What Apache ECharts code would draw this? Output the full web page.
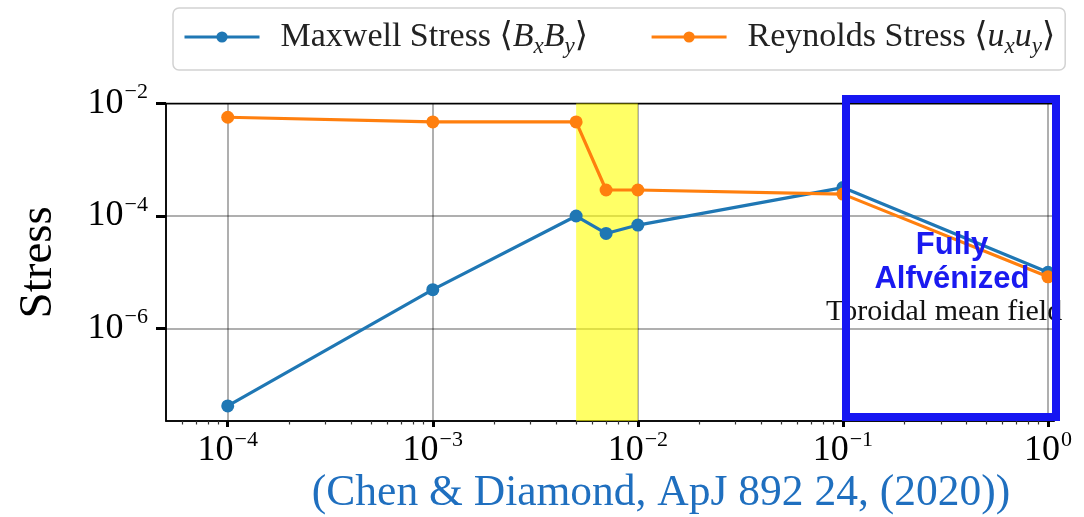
<!DOCTYPE html>
<html><head><meta charset="utf-8">
<script src="https://cdn.jsdelivr.net/npm/echarts@6/dist/echarts.min.js"></script>
<style>html,body{margin:0;padding:0;background:#fff}#c{width:1084px;height:517px}</style>
</head><body><div id="c"></div>
<script>
// ---- data ----
const xValues = [1e-4, 1e-3, 5e-3, 7e-3, 1e-2, 1e-1, 1];
const maxwellStress = [4.2e-8, 4.9e-6, 1.0e-4, 4.9e-5, 6.9e-5, 3.2e-4, 1.0e-5];
const reynoldsStress = [5.7e-3, 4.7e-3, 4.7e-3, 2.9e-4, 2.9e-4, 2.45e-4, 8.3e-6];
const seriesNames = ['Maxwell Stress', 'Reynolds Stress'];
const legendSymbols = [['B', 'x', 'B', 'y'], ['u', 'x', 'u', 'y']];
const seriesColors = ['#1f77b4', '#ff7f0e'];
const highlightSpan = [5e-3, 1e-2];
const xRange = [5e-5, 1.07];
const yRange = [2.27e-8, 1e-2];
const xTickValues = [1e-4, 1e-3, 1e-2, 1e-1, 1];
const yTickValues = [1e-6, 1e-4, 1e-2];
const xMinorTickValues = [6e-5, 7e-5, 8e-5, 9e-5,
  2e-4, 3e-4, 4e-4, 5e-4, 6e-4, 7e-4, 8e-4, 9e-4,
  2e-3, 3e-3, 4e-3, 5e-3, 6e-3, 7e-3, 8e-3, 9e-3,
  2e-2, 3e-2, 4e-2, 5e-2, 6e-2, 7e-2, 8e-2, 9e-2,
  0.2, 0.3, 0.4, 0.5, 0.6, 0.7, 0.8, 0.9];
const yAxisName = 'Stress';
const annotationTitle = 'Fully\nAlfvénized';
const annotationNote = 'Toroidal mean field';
const citation = '(Chen & Diamond, ApJ 892 24, (2020))';

const SERIF = '"Liberation Serif", "DejaVu Serif", serif';

function powLabel(v) {
  const e = Math.log10(v);
  const r = Math.round(e);
  if (Math.abs(e - r) > 1e-6) return '';
  return '{b|10}{s|' + (r < 0 ? '\u2212' + (-r) : String(r)) + '}';
}
const tickRich = {
  b: { fontSize: 36, fontFamily: SERIF, color: '#000', lineHeight: 44 },
  s: { fontSize: 22, fontFamily: SERIF, color: '#000', lineHeight: 32, verticalAlign: 'top', padding: [0, 0, 0, 1] }
};

const chart = echarts.init(document.getElementById('c'), null, { renderer: 'canvas' });
chart.setOption({
  animation: false,
  backgroundColor: '#fff',
  grid: { left: 166, right: 30, top: 103.5, bottom: 96, show: true, borderColor: '#000', borderWidth: 1.5, backgroundColor: 'transparent' },
  legend: {
    left: 173, top: 8,
    itemWidth: 75, itemHeight: 14, itemGap: 62,
    padding: [12, 10, 12, 10],
    borderColor: '#d2d2d2', borderWidth: 1.5, borderRadius: 6,
    backgroundColor: '#fff',
    lineStyle: { width: 3 },
    data: seriesNames,
    formatter: function (name) {
      const k = seriesNames.indexOf(name);
      const s = legendSymbols[k];
      return '{g| }{t|' + name + ' \u27E8}{i|' + s[0] + '}{sub|' + s[1] + '}{i|' + s[2] + '}{sub|' + s[3] + '}{t|\u27E9}';
    },
    textStyle: {
      fontFamily: SERIF, fontSize: 34, color: '#222',
      rich: {
        g: { width: 16 },
        t: { fontFamily: SERIF, fontSize: 34, color: '#222', lineHeight: 42 },
        i: { fontFamily: SERIF, fontSize: 34, fontStyle: 'italic', color: '#222', lineHeight: 42 },
        sub: { fontFamily: SERIF, fontSize: 23, fontStyle: 'italic', color: '#222', lineHeight: 23, verticalAlign: 'bottom' }
      }
    }
  },
  xAxis: [{
    type: 'log', logBase: 10, min: xRange[0], max: xRange[1],
    axisLine: { show: true, lineStyle: { color: '#000', width: 1.5 } },
    axisTick: { show: true, inside: false, length: 6, customValues: xTickValues, lineStyle: { color: '#000', width: 3 } },
    splitLine: { show: true, lineStyle: { color: 'rgba(0,0,0,0.42)', width: 1.5 } },
    axisLabel: { margin: 8, formatter: powLabel, rich: tickRich, customValues: xTickValues }
  }, {
    type: 'log', logBase: 10, min: xRange[0], max: xRange[1], position: 'bottom', gridIndex: 0,
    axisLine: { show: false },
    axisTick: { show: true, inside: false, length: 3.5, customValues: xMinorTickValues, lineStyle: { color: '#333', width: 1.2 } },
    splitLine: { show: false },
    axisLabel: { show: false }
  }],
  yAxis: {
    type: 'log', logBase: 100, min: yRange[0], max: yRange[1],
    name: yAxisName, nameLocation: 'middle', nameRotate: 90, nameGap: 104,
    nameTextStyle: { fontFamily: SERIF, fontSize: 47, color: '#000' },
    axisLine: { show: true, lineStyle: { color: '#000', width: 1.5 } },
    axisTick: { show: true, inside: false, length: 10, customValues: yTickValues, lineStyle: { color: '#000', width: 3 } },
    splitLine: { show: true, lineStyle: { color: 'rgba(0,0,0,0.42)', width: 1.5 } },
    axisLabel: { margin: 18, formatter: powLabel, rich: tickRich, customValues: yTickValues }
  },
  series: [
    {
      name: seriesNames[0], type: 'line', z: 3,
      data: xValues.map((x, i) => [x, maxwellStress[i]]),
      symbol: 'circle', symbolSize: 13,
      lineStyle: { color: seriesColors[0], width: 3.2 },
      itemStyle: { color: seriesColors[0] },
      markArea: {
        silent: true,
        itemStyle: { color: 'rgba(255,255,0,0.6)' },
        data: [[{ xAxis: highlightSpan[0] }, { xAxis: highlightSpan[1] }]]
      }
    },
    {
      name: seriesNames[1], type: 'line', z: 4,
      data: xValues.map((x, i) => [x, reynoldsStress[i]]),
      symbol: 'circle', symbolSize: 13,
      lineStyle: { color: seriesColors[1], width: 3.2 },
      itemStyle: { color: seriesColors[1] }
    }
  ],
  graphic: [
    { type: 'text', z: 90, x: 826, y: 312, style: { text: annotationNote, font: '30px ' + SERIF, fill: '#111', align: 'left', verticalAlign: 'middle' } },
    { type: 'text', z: 95, x: 952, y: 262, style: { text: annotationTitle, font: 'bold 31px "Liberation Sans", Arial, sans-serif', fill: '#1a1af0', align: 'center', verticalAlign: 'middle', lineHeight: 34 } },
    { type: 'rect', z: 100, shape: { x: 846, y: 99, width: 210, height: 318 }, style: { fill: 'none', stroke: '#1616f2', lineWidth: 8 } },
    { type: 'text', z: 90, x: 661, y: 494, style: { text: citation, font: '43.5px ' + SERIF, fill: '#1f6fbf', align: 'center', verticalAlign: 'middle' } }
  ]
});
</script>
</body></html>
